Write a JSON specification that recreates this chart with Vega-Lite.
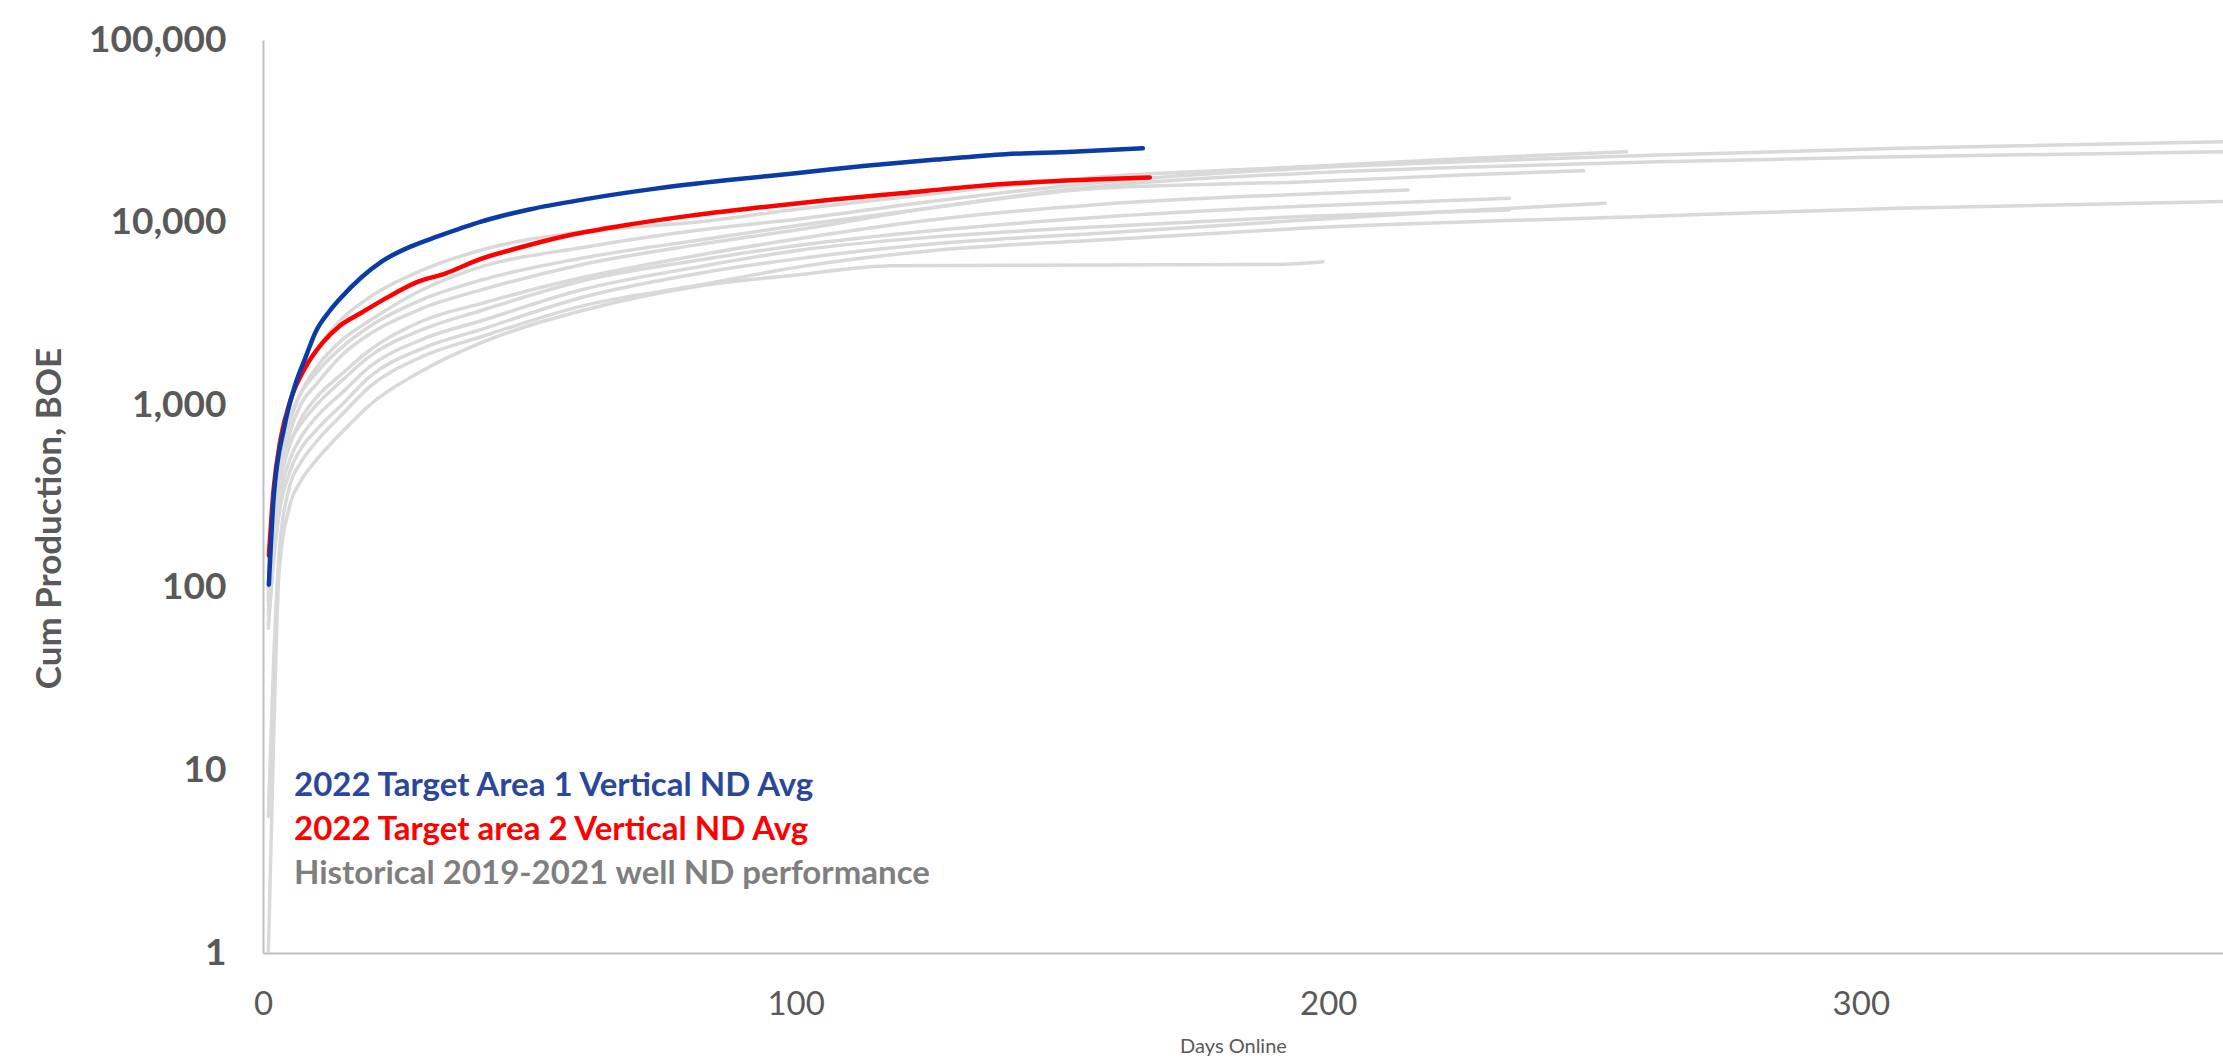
{
  "$schema": "https://vega.github.io/schema/vega-lite/v6.json",
  "width": 1960,
  "height": 913,
  "autosize": {"type": "none"},
  "padding": {"left": 263, "top": 40, "right": 0, "bottom": 106},
  "background": "white",
  "config": {"view": {"stroke": null}, "font": "Lato"},
  "datasets": {
    "hist": [
      {"well": "W1", "series": "Historical 2019-2021 well ND performance", "day": 1, "cum": 120},
      {"well": "W1", "series": "Historical 2019-2021 well ND performance", "day": 2, "cum": 330},
      {"well": "W1", "series": "Historical 2019-2021 well ND performance", "day": 3, "cum": 600},
      {"well": "W1", "series": "Historical 2019-2021 well ND performance", "day": 5, "cum": 1000},
      {"well": "W1", "series": "Historical 2019-2021 well ND performance", "day": 7, "cum": 1450},
      {"well": "W1", "series": "Historical 2019-2021 well ND performance", "day": 10, "cum": 2000},
      {"well": "W1", "series": "Historical 2019-2021 well ND performance", "day": 15, "cum": 3000},
      {"well": "W1", "series": "Historical 2019-2021 well ND performance", "day": 20, "cum": 3900},
      {"well": "W1", "series": "Historical 2019-2021 well ND performance", "day": 30, "cum": 5500},
      {"well": "W1", "series": "Historical 2019-2021 well ND performance", "day": 41, "cum": 7080},
      {"well": "W1", "series": "Historical 2019-2021 well ND performance", "day": 60, "cum": 8900},
      {"well": "W1", "series": "Historical 2019-2021 well ND performance", "day": 82, "cum": 10100},
      {"well": "W1", "series": "Historical 2019-2021 well ND performance", "day": 101, "cum": 11900},
      {"well": "W1", "series": "Historical 2019-2021 well ND performance", "day": 125, "cum": 14300},
      {"well": "W1", "series": "Historical 2019-2021 well ND performance", "day": 157, "cum": 17800},
      {"well": "W1", "series": "Historical 2019-2021 well ND performance", "day": 195, "cum": 20200},
      {"well": "W1", "series": "Historical 2019-2021 well ND performance", "day": 225, "cum": 22400},
      {"well": "W1", "series": "Historical 2019-2021 well ND performance", "day": 256, "cum": 24400},

      {"well": "W8", "series": "Historical 2019-2021 well ND performance", "day": 1, "cum": 90},
      {"well": "W8", "series": "Historical 2019-2021 well ND performance", "day": 2, "cum": 250},
      {"well": "W8", "series": "Historical 2019-2021 well ND performance", "day": 3, "cum": 450},
      {"well": "W8", "series": "Historical 2019-2021 well ND performance", "day": 5, "cum": 800},
      {"well": "W8", "series": "Historical 2019-2021 well ND performance", "day": 7, "cum": 1150},
      {"well": "W8", "series": "Historical 2019-2021 well ND performance", "day": 10, "cum": 1600},
      {"well": "W8", "series": "Historical 2019-2021 well ND performance", "day": 15, "cum": 2300},
      {"well": "W8", "series": "Historical 2019-2021 well ND performance", "day": 20, "cum": 2900},
      {"well": "W8", "series": "Historical 2019-2021 well ND performance", "day": 30, "cum": 4300},
      {"well": "W8", "series": "Historical 2019-2021 well ND performance", "day": 41, "cum": 5740},
      {"well": "W8", "series": "Historical 2019-2021 well ND performance", "day": 60, "cum": 7300},
      {"well": "W8", "series": "Historical 2019-2021 well ND performance", "day": 82, "cum": 9100},
      {"well": "W8", "series": "Historical 2019-2021 well ND performance", "day": 101, "cum": 10500},
      {"well": "W8", "series": "Historical 2019-2021 well ND performance", "day": 125, "cum": 13000},
      {"well": "W8", "series": "Historical 2019-2021 well ND performance", "day": 157, "cum": 16600},
      {"well": "W8", "series": "Historical 2019-2021 well ND performance", "day": 195, "cum": 19800},
      {"well": "W8", "series": "Historical 2019-2021 well ND performance", "day": 230, "cum": 21800},
      {"well": "W8", "series": "Historical 2019-2021 well ND performance", "day": 262, "cum": 23450},
      {"well": "W8", "series": "Historical 2019-2021 well ND performance", "day": 307, "cum": 25500},
      {"well": "W8", "series": "Historical 2019-2021 well ND performance", "day": 368, "cum": 27740},

      {"well": "W9", "series": "Historical 2019-2021 well ND performance", "day": 1, "cum": 80},
      {"well": "W9", "series": "Historical 2019-2021 well ND performance", "day": 2, "cum": 200},
      {"well": "W9", "series": "Historical 2019-2021 well ND performance", "day": 3, "cum": 380},
      {"well": "W9", "series": "Historical 2019-2021 well ND performance", "day": 5, "cum": 700},
      {"well": "W9", "series": "Historical 2019-2021 well ND performance", "day": 7, "cum": 1000},
      {"well": "W9", "series": "Historical 2019-2021 well ND performance", "day": 10, "cum": 1300},
      {"well": "W9", "series": "Historical 2019-2021 well ND performance", "day": 15, "cum": 1900},
      {"well": "W9", "series": "Historical 2019-2021 well ND performance", "day": 20, "cum": 2450},
      {"well": "W9", "series": "Historical 2019-2021 well ND performance", "day": 30, "cum": 3400},
      {"well": "W9", "series": "Historical 2019-2021 well ND performance", "day": 41, "cum": 4280},
      {"well": "W9", "series": "Historical 2019-2021 well ND performance", "day": 60, "cum": 5900},
      {"well": "W9", "series": "Historical 2019-2021 well ND performance", "day": 82, "cum": 7600},
      {"well": "W9", "series": "Historical 2019-2021 well ND performance", "day": 101, "cum": 9200},
      {"well": "W9", "series": "Historical 2019-2021 well ND performance", "day": 125, "cum": 12000},
      {"well": "W9", "series": "Historical 2019-2021 well ND performance", "day": 157, "cum": 15800},
      {"well": "W9", "series": "Historical 2019-2021 well ND performance", "day": 195, "cum": 18600},
      {"well": "W9", "series": "Historical 2019-2021 well ND performance", "day": 230, "cum": 20300},
      {"well": "W9", "series": "Historical 2019-2021 well ND performance", "day": 262, "cum": 21560},
      {"well": "W9", "series": "Historical 2019-2021 well ND performance", "day": 307, "cum": 22950},
      {"well": "W9", "series": "Historical 2019-2021 well ND performance", "day": 368, "cum": 24450},

      {"well": "W2", "series": "Historical 2019-2021 well ND performance", "day": 1, "cum": 100},
      {"well": "W2", "series": "Historical 2019-2021 well ND performance", "day": 2, "cum": 260},
      {"well": "W2", "series": "Historical 2019-2021 well ND performance", "day": 3, "cum": 480},
      {"well": "W2", "series": "Historical 2019-2021 well ND performance", "day": 5, "cum": 850},
      {"well": "W2", "series": "Historical 2019-2021 well ND performance", "day": 7, "cum": 1150},
      {"well": "W2", "series": "Historical 2019-2021 well ND performance", "day": 10, "cum": 1500},
      {"well": "W2", "series": "Historical 2019-2021 well ND performance", "day": 15, "cum": 2100},
      {"well": "W2", "series": "Historical 2019-2021 well ND performance", "day": 20, "cum": 2700},
      {"well": "W2", "series": "Historical 2019-2021 well ND performance", "day": 30, "cum": 3800},
      {"well": "W2", "series": "Historical 2019-2021 well ND performance", "day": 41, "cum": 4850},
      {"well": "W2", "series": "Historical 2019-2021 well ND performance", "day": 60, "cum": 6400},
      {"well": "W2", "series": "Historical 2019-2021 well ND performance", "day": 82, "cum": 8030},
      {"well": "W2", "series": "Historical 2019-2021 well ND performance", "day": 101, "cum": 9700},
      {"well": "W2", "series": "Historical 2019-2021 well ND performance", "day": 125, "cum": 12000},
      {"well": "W2", "series": "Historical 2019-2021 well ND performance", "day": 157, "cum": 15400},
      {"well": "W2", "series": "Historical 2019-2021 well ND performance", "day": 195, "cum": 16700},
      {"well": "W2", "series": "Historical 2019-2021 well ND performance", "day": 225, "cum": 18200},
      {"well": "W2", "series": "Historical 2019-2021 well ND performance", "day": 248, "cum": 19250},

      {"well": "W3", "series": "Historical 2019-2021 well ND performance", "day": 1, "cum": 70},
      {"well": "W3", "series": "Historical 2019-2021 well ND performance", "day": 2, "cum": 200},
      {"well": "W3", "series": "Historical 2019-2021 well ND performance", "day": 3, "cum": 350},
      {"well": "W3", "series": "Historical 2019-2021 well ND performance", "day": 5, "cum": 600},
      {"well": "W3", "series": "Historical 2019-2021 well ND performance", "day": 7, "cum": 830},
      {"well": "W3", "series": "Historical 2019-2021 well ND performance", "day": 10, "cum": 1100},
      {"well": "W3", "series": "Historical 2019-2021 well ND performance", "day": 15, "cum": 1500},
      {"well": "W3", "series": "Historical 2019-2021 well ND performance", "day": 20, "cum": 2000},
      {"well": "W3", "series": "Historical 2019-2021 well ND performance", "day": 30, "cum": 2900},
      {"well": "W3", "series": "Historical 2019-2021 well ND performance", "day": 41, "cum": 3610},
      {"well": "W3", "series": "Historical 2019-2021 well ND performance", "day": 60, "cum": 5000},
      {"well": "W3", "series": "Historical 2019-2021 well ND performance", "day": 82, "cum": 6650},
      {"well": "W3", "series": "Historical 2019-2021 well ND performance", "day": 101, "cum": 8200},
      {"well": "W3", "series": "Historical 2019-2021 well ND performance", "day": 125, "cum": 10300},
      {"well": "W3", "series": "Historical 2019-2021 well ND performance", "day": 157, "cum": 12580},
      {"well": "W3", "series": "Historical 2019-2021 well ND performance", "day": 195, "cum": 14300},
      {"well": "W3", "series": "Historical 2019-2021 well ND performance", "day": 215, "cum": 15080},

      {"well": "W4", "series": "Historical 2019-2021 well ND performance", "day": 1, "cum": 85},
      {"well": "W4", "series": "Historical 2019-2021 well ND performance", "day": 2, "cum": 230},
      {"well": "W4", "series": "Historical 2019-2021 well ND performance", "day": 3, "cum": 390},
      {"well": "W4", "series": "Historical 2019-2021 well ND performance", "day": 5, "cum": 620},
      {"well": "W4", "series": "Historical 2019-2021 well ND performance", "day": 7, "cum": 780},
      {"well": "W4", "series": "Historical 2019-2021 well ND performance", "day": 10, "cum": 1000},
      {"well": "W4", "series": "Historical 2019-2021 well ND performance", "day": 15, "cum": 1380},
      {"well": "W4", "series": "Historical 2019-2021 well ND performance", "day": 20, "cum": 1850},
      {"well": "W4", "series": "Historical 2019-2021 well ND performance", "day": 30, "cum": 2600},
      {"well": "W4", "series": "Historical 2019-2021 well ND performance", "day": 41, "cum": 3300},
      {"well": "W4", "series": "Historical 2019-2021 well ND performance", "day": 60, "cum": 4800},
      {"well": "W4", "series": "Historical 2019-2021 well ND performance", "day": 82, "cum": 6240},
      {"well": "W4", "series": "Historical 2019-2021 well ND performance", "day": 101, "cum": 7540},
      {"well": "W4", "series": "Historical 2019-2021 well ND performance", "day": 125, "cum": 9000},
      {"well": "W4", "series": "Historical 2019-2021 well ND performance", "day": 157, "cum": 10690},
      {"well": "W4", "series": "Historical 2019-2021 well ND performance", "day": 195, "cum": 12300},
      {"well": "W4", "series": "Historical 2019-2021 well ND performance", "day": 234, "cum": 13590},

      {"well": "W6", "series": "Historical 2019-2021 well ND performance", "day": 1, "cum": 60},
      {"well": "W6", "series": "Historical 2019-2021 well ND performance", "day": 2, "cum": 150},
      {"well": "W6", "series": "Historical 2019-2021 well ND performance", "day": 3, "cum": 290},
      {"well": "W6", "series": "Historical 2019-2021 well ND performance", "day": 5, "cum": 500},
      {"well": "W6", "series": "Historical 2019-2021 well ND performance", "day": 7, "cum": 660},
      {"well": "W6", "series": "Historical 2019-2021 well ND performance", "day": 10, "cum": 860},
      {"well": "W6", "series": "Historical 2019-2021 well ND performance", "day": 15, "cum": 1180},
      {"well": "W6", "series": "Historical 2019-2021 well ND performance", "day": 20, "cum": 1620},
      {"well": "W6", "series": "Historical 2019-2021 well ND performance", "day": 30, "cum": 2300},
      {"well": "W6", "series": "Historical 2019-2021 well ND performance", "day": 41, "cum": 2900},
      {"well": "W6", "series": "Historical 2019-2021 well ND performance", "day": 60, "cum": 4300},
      {"well": "W6", "series": "Historical 2019-2021 well ND performance", "day": 82, "cum": 5740},
      {"well": "W6", "series": "Historical 2019-2021 well ND performance", "day": 101, "cum": 7080},
      {"well": "W6", "series": "Historical 2019-2021 well ND performance", "day": 125, "cum": 8300},
      {"well": "W6", "series": "Historical 2019-2021 well ND performance", "day": 157, "cum": 9500},
      {"well": "W6", "series": "Historical 2019-2021 well ND performance", "day": 195, "cum": 10800},
      {"well": "W6", "series": "Historical 2019-2021 well ND performance", "day": 234, "cum": 11740},

      {"well": "W5", "series": "Historical 2019-2021 well ND performance", "day": 1, "cum": 63},
      {"well": "W5", "series": "Historical 2019-2021 well ND performance", "day": 2, "cum": 140},
      {"well": "W5", "series": "Historical 2019-2021 well ND performance", "day": 3, "cum": 250},
      {"well": "W5", "series": "Historical 2019-2021 well ND performance", "day": 5, "cum": 430},
      {"well": "W5", "series": "Historical 2019-2021 well ND performance", "day": 7, "cum": 570},
      {"well": "W5", "series": "Historical 2019-2021 well ND performance", "day": 10, "cum": 730},
      {"well": "W5", "series": "Historical 2019-2021 well ND performance", "day": 15, "cum": 1020},
      {"well": "W5", "series": "Historical 2019-2021 well ND performance", "day": 20, "cum": 1430},
      {"well": "W5", "series": "Historical 2019-2021 well ND performance", "day": 30, "cum": 2050},
      {"well": "W5", "series": "Historical 2019-2021 well ND performance", "day": 41, "cum": 2600},
      {"well": "W5", "series": "Historical 2019-2021 well ND performance", "day": 60, "cum": 3900},
      {"well": "W5", "series": "Historical 2019-2021 well ND performance", "day": 82, "cum": 5280},
      {"well": "W5", "series": "Historical 2019-2021 well ND performance", "day": 101, "cum": 6370},
      {"well": "W5", "series": "Historical 2019-2021 well ND performance", "day": 125, "cum": 7600},
      {"well": "W5", "series": "Historical 2019-2021 well ND performance", "day": 157, "cum": 8740},
      {"well": "W5", "series": "Historical 2019-2021 well ND performance", "day": 195, "cum": 10300},
      {"well": "W5", "series": "Historical 2019-2021 well ND performance", "day": 225, "cum": 11600},
      {"well": "W5", "series": "Historical 2019-2021 well ND performance", "day": 252, "cum": 12760},

      {"well": "W10", "series": "Historical 2019-2021 well ND performance", "day": 1, "cum": 5.6},
      {"well": "W10", "series": "Historical 2019-2021 well ND performance", "day": 2, "cum": 40},
      {"well": "W10", "series": "Historical 2019-2021 well ND performance", "day": 3, "cum": 150},
      {"well": "W10", "series": "Historical 2019-2021 well ND performance", "day": 5, "cum": 360},
      {"well": "W10", "series": "Historical 2019-2021 well ND performance", "day": 7, "cum": 480},
      {"well": "W10", "series": "Historical 2019-2021 well ND performance", "day": 10, "cum": 630},
      {"well": "W10", "series": "Historical 2019-2021 well ND performance", "day": 15, "cum": 900},
      {"well": "W10", "series": "Historical 2019-2021 well ND performance", "day": 20, "cum": 1260},
      {"well": "W10", "series": "Historical 2019-2021 well ND performance", "day": 30, "cum": 1850},
      {"well": "W10", "series": "Historical 2019-2021 well ND performance", "day": 41, "cum": 2370},
      {"well": "W10", "series": "Historical 2019-2021 well ND performance", "day": 60, "cum": 3500},
      {"well": "W10", "series": "Historical 2019-2021 well ND performance", "day": 82, "cum": 4550},
      {"well": "W10", "series": "Historical 2019-2021 well ND performance", "day": 101, "cum": 5740},
      {"well": "W10", "series": "Historical 2019-2021 well ND performance", "day": 125, "cum": 7000},
      {"well": "W10", "series": "Historical 2019-2021 well ND performance", "day": 157, "cum": 8030},
      {"well": "W10", "series": "Historical 2019-2021 well ND performance", "day": 195, "cum": 9300},
      {"well": "W10", "series": "Historical 2019-2021 well ND performance", "day": 262, "cum": 10870},
      {"well": "W10", "series": "Historical 2019-2021 well ND performance", "day": 307, "cum": 11970},
      {"well": "W10", "series": "Historical 2019-2021 well ND performance", "day": 368, "cum": 13030},

      {"well": "W7", "series": "Historical 2019-2021 well ND performance", "day": 1, "cum": 1},
      {"well": "W7", "series": "Historical 2019-2021 well ND performance", "day": 2, "cum": 15},
      {"well": "W7", "series": "Historical 2019-2021 well ND performance", "day": 3, "cum": 120},
      {"well": "W7", "series": "Historical 2019-2021 well ND performance", "day": 5, "cum": 280},
      {"well": "W7", "series": "Historical 2019-2021 well ND performance", "day": 7, "cum": 380},
      {"well": "W7", "series": "Historical 2019-2021 well ND performance", "day": 10, "cum": 500},
      {"well": "W7", "series": "Historical 2019-2021 well ND performance", "day": 15, "cum": 720},
      {"well": "W7", "series": "Historical 2019-2021 well ND performance", "day": 20, "cum": 1000},
      {"well": "W7", "series": "Historical 2019-2021 well ND performance", "day": 30, "cum": 1550},
      {"well": "W7", "series": "Historical 2019-2021 well ND performance", "day": 41, "cum": 2200},
      {"well": "W7", "series": "Historical 2019-2021 well ND performance", "day": 60, "cum": 3300},
      {"well": "W7", "series": "Historical 2019-2021 well ND performance", "day": 82, "cum": 4500},
      {"well": "W7", "series": "Historical 2019-2021 well ND performance", "day": 101, "cum": 5200},
      {"well": "W7", "series": "Historical 2019-2021 well ND performance", "day": 118, "cum": 5800},
      {"well": "W7", "series": "Historical 2019-2021 well ND performance", "day": 157, "cum": 5860},
      {"well": "W7", "series": "Historical 2019-2021 well ND performance", "day": 190, "cum": 5900},
      {"well": "W7", "series": "Historical 2019-2021 well ND performance", "day": 199, "cum": 6110}
    ],
    "targets": [
      {"series": "2022 Target area 2 Vertical ND Avg", "day": 1.1, "cum": 150},
      {"series": "2022 Target area 2 Vertical ND Avg", "day": 2, "cum": 347},
      {"series": "2022 Target area 2 Vertical ND Avg", "day": 3.3, "cum": 649},
      {"series": "2022 Target area 2 Vertical ND Avg", "day": 5.3, "cum": 1095},
      {"series": "2022 Target area 2 Vertical ND Avg", "day": 7.9, "cum": 1600},
      {"series": "2022 Target area 2 Vertical ND Avg", "day": 11.2, "cum": 2200},
      {"series": "2022 Target area 2 Vertical ND Avg", "day": 14.5, "cum": 2733},
      {"series": "2022 Target area 2 Vertical ND Avg", "day": 18.4, "cum": 3200},
      {"series": "2022 Target area 2 Vertical ND Avg", "day": 23.7, "cum": 3945},
      {"series": "2022 Target area 2 Vertical ND Avg", "day": 29, "cum": 4735},
      {"series": "2022 Target area 2 Vertical ND Avg", "day": 34.2, "cum": 5260},
      {"series": "2022 Target area 2 Vertical ND Avg", "day": 40.8, "cum": 6310},
      {"series": "2022 Target area 2 Vertical ND Avg", "day": 47.4, "cum": 7190},
      {"series": "2022 Target area 2 Vertical ND Avg", "day": 56.6, "cum": 8420},
      {"series": "2022 Target area 2 Vertical ND Avg", "day": 67.1, "cum": 9580},
      {"series": "2022 Target area 2 Vertical ND Avg", "day": 80.3, "cum": 10920},
      {"series": "2022 Target area 2 Vertical ND Avg", "day": 93.5, "cum": 12120},
      {"series": "2022 Target area 2 Vertical ND Avg", "day": 106.6, "cum": 13330},
      {"series": "2022 Target area 2 Vertical ND Avg", "day": 119.8, "cum": 14480},
      {"series": "2022 Target area 2 Vertical ND Avg", "day": 133, "cum": 15740},
      {"series": "2022 Target area 2 Vertical ND Avg", "day": 146.2, "cum": 16760},
      {"series": "2022 Target area 2 Vertical ND Avg", "day": 156.7, "cum": 17300},
      {"series": "2022 Target area 2 Vertical ND Avg", "day": 166.5, "cum": 17670},
      {"series": "2022 Target Area 1 Vertical ND Avg", "day": 1.1, "cum": 104},
      {"series": "2022 Target Area 1 Vertical ND Avg", "day": 2, "cum": 312},
      {"series": "2022 Target Area 1 Vertical ND Avg", "day": 4, "cum": 759},
      {"series": "2022 Target Area 1 Vertical ND Avg", "day": 6, "cum": 1280},
      {"series": "2022 Target Area 1 Vertical ND Avg", "day": 7.9, "cum": 1800},
      {"series": "2022 Target Area 1 Vertical ND Avg", "day": 9.9, "cum": 2528},
      {"series": "2022 Target Area 1 Vertical ND Avg", "day": 12.5, "cum": 3280},
      {"series": "2022 Target Area 1 Vertical ND Avg", "day": 14.5, "cum": 3840},
      {"series": "2022 Target Area 1 Vertical ND Avg", "day": 18.4, "cum": 4990},
      {"series": "2022 Target Area 1 Vertical ND Avg", "day": 22.4, "cum": 6150},
      {"series": "2022 Target Area 1 Vertical ND Avg", "day": 27.7, "cum": 7390},
      {"series": "2022 Target Area 1 Vertical ND Avg", "day": 32.9, "cum": 8420},
      {"series": "2022 Target Area 1 Vertical ND Avg", "day": 40.8, "cum": 10090},
      {"series": "2022 Target Area 1 Vertical ND Avg", "day": 50, "cum": 11800},
      {"series": "2022 Target Area 1 Vertical ND Avg", "day": 60.6, "cum": 13450},
      {"series": "2022 Target Area 1 Vertical ND Avg", "day": 73.7, "cum": 15350},
      {"series": "2022 Target Area 1 Vertical ND Avg", "day": 86.9, "cum": 17050},
      {"series": "2022 Target Area 1 Vertical ND Avg", "day": 100, "cum": 18630},
      {"series": "2022 Target Area 1 Vertical ND Avg", "day": 113.2, "cum": 20470},
      {"series": "2022 Target Area 1 Vertical ND Avg", "day": 126.4, "cum": 22130},
      {"series": "2022 Target Area 1 Vertical ND Avg", "day": 139.5, "cum": 23700},
      {"series": "2022 Target Area 1 Vertical ND Avg", "day": 152, "cum": 24400},
      {"series": "2022 Target Area 1 Vertical ND Avg", "day": 165.2, "cum": 25500}
    ]
  },
  "layer": [
    {
      "data": {"name": "hist"},
      "mark": {"type": "line", "strokeWidth": 3.5, "interpolate": "monotone", "clip": true, "strokeCap": "round", "strokeJoin": "round"},
      "encoding": {
        "x": {
          "field": "day", "type": "quantitative",
          "scale": {"domain": [0, 368], "nice": false, "zero": true},
          "axis": {
            "values": [0, 100, 200, 300], "title": "Days Online", "ticks": false, "tickSize": 0, "grid": false,
            "domainColor": "#bfbfbf", "domainWidth": 2, "labelFlush": false,
            "labelFont": "Lato", "labelFontSize": 33, "labelColor": "#595959", "labelPadding": 35,
            "titleFont": "Lato", "titleFontSize": 20, "titleFontWeight": "normal", "titleColor": "#595959",
            "titleX": 970, "titleY": 93, "titleBaseline": "middle"
          }
        },
        "y": {
          "field": "cum", "type": "quantitative",
          "scale": {"type": "log", "domain": [1, 100000], "nice": false},
          "axis": {
            "values": [1, 10, 100, 1000, 10000, 100000], "format": ",d", "title": "Cum Production, BOE",
            "ticks": false, "tickSize": 0, "grid": false, "domainColor": "#bfbfbf", "domainWidth": 2, "labelFlush": false,
            "labelFont": "Lato", "labelFontSize": 37, "labelFontWeight": "bold", "labelColor": "#595959", "labelPadding": 37,
            "titleFont": "Lato", "titleFontSize": 35, "titleFontWeight": "bold", "titleColor": "#595959",
            "titlePadding": 21, "titleY": 478
          }
        },
        "detail": {"field": "well", "type": "nominal"},
        "color": {
          "field": "series", "type": "nominal",
          "scale": {
            "domain": ["2022 Target Area 1 Vertical ND Avg", "2022 Target area 2 Vertical ND Avg", "Historical 2019-2021 well ND performance"],
            "range": ["#0b3ba5", "#ff0000", "#d9d9d9"]
          },
          "legend": {
            "title": null, "orient": "none", "legendX": -2, "legendY": 729, "direction": "vertical",
            "symbolOpacity": 0, "symbolSize": 0, "symbolStrokeWidth": 0, "padding": 0,
            "labelFont": "Lato", "labelFontSize": 33, "labelFontWeight": "bold", "labelOffset": 0, "labelLimit": 0,
            "rowPadding": 10,
            "encode": {
              "labels": {
                "update": {
                  "fill": {"signal": "datum.value === 'Historical 2019-2021 well ND performance' ? '#7f7f7f' : datum.value === '2022 Target area 2 Vertical ND Avg' ? '#ff0000' : '#2b479b'"}
                }
              }
            }
          }
        }
      }
    },
    {
      "data": {"name": "targets"},
      "mark": {"type": "line", "strokeWidth": 4.5, "interpolate": "monotone", "clip": true, "strokeCap": "round", "strokeJoin": "round"},
      "encoding": {
        "x": {"field": "day", "type": "quantitative", "scale": {"domain": [0, 368], "nice": false, "zero": true}},
        "y": {"field": "cum", "type": "quantitative", "scale": {"type": "log", "domain": [1, 100000], "nice": false}},
        "color": {"field": "series", "type": "nominal"}
      }
    }
  ]
}
